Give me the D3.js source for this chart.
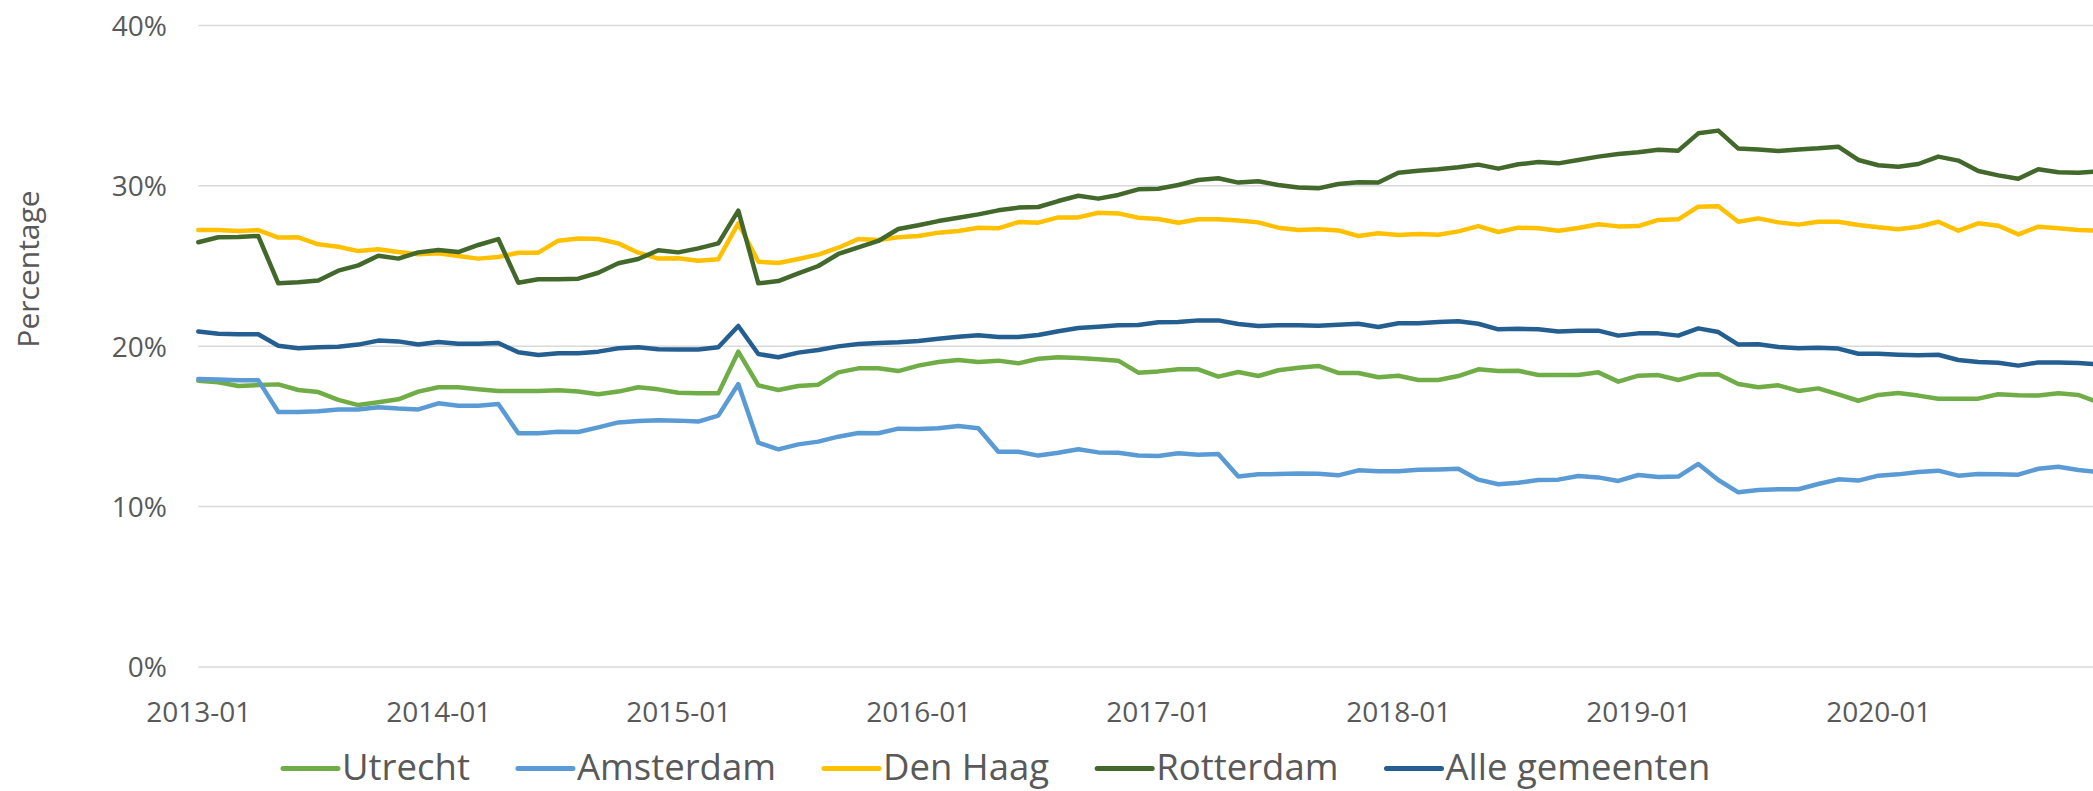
<!DOCTYPE html>
<html>
<head>
<meta charset="utf-8">
<script src="https://cdn.jsdelivr.net/npm/d3@7"></script>
<style>
  html, body { margin: 0; padding: 0; background: #fff; overflow: hidden; }
  svg { display: block; }
  text { font-family: "Open Sans", "Noto Sans", sans-serif; fill: #595959; }
</style>
</head>
<body>
<svg id="chart" width="2093" height="791"></svg>
<script>
// ---- data ----
const startYear = 2013;
const monthCount = 96; // 2013-01 .. 2020-12
const categories = d3.range(monthCount).map(i =>
  `${startYear + Math.floor(i / 12)}-${String(i % 12 + 1).padStart(2, "0")}`);

const xTickLabels = ["2013-01", "2014-01", "2015-01", "2016-01", "2017-01", "2018-01", "2019-01", "2020-01"];
const yTickValues = [0, 10, 20, 30, 40];

const utrecht = [
  17.85, 17.75, 17.52, 17.58, 17.62, 17.27, 17.14, 16.65, 16.33, 16.50, 16.69, 17.17,
  17.44, 17.44, 17.31, 17.21, 17.21, 17.21, 17.25, 17.17, 17.00, 17.17, 17.44, 17.31,
  17.10, 17.06, 17.06, 19.66, 17.56, 17.27, 17.52, 17.60, 18.37, 18.62, 18.62, 18.45,
  18.79, 19.01, 19.14, 19.01, 19.10, 18.93, 19.22, 19.31, 19.26, 19.18, 19.10, 18.35,
  18.43, 18.56, 18.56, 18.10, 18.39, 18.14, 18.50, 18.66, 18.77, 18.33, 18.33, 18.06,
  18.16, 17.89, 17.89, 18.14, 18.56, 18.45, 18.47, 18.20, 18.20, 18.20, 18.37, 17.79,
  18.16, 18.20, 17.89, 18.23, 18.25, 17.64, 17.44, 17.56, 17.21, 17.37, 17.00, 16.60,
  16.96, 17.08, 16.92, 16.73, 16.73, 16.73, 17.00, 16.94, 16.92, 17.06, 16.96, 16.50
];
const amsterdam = [
  17.95, 17.93, 17.87, 17.87, 15.90, 15.90, 15.94, 16.06, 16.06, 16.19, 16.11, 16.06,
  16.44, 16.29, 16.29, 16.40, 14.57, 14.57, 14.67, 14.65, 14.94, 15.25, 15.34, 15.38,
  15.36, 15.30, 15.67, 17.64, 13.99, 13.57, 13.88, 14.05, 14.36, 14.59, 14.57, 14.86,
  14.84, 14.88, 15.02, 14.88, 13.42, 13.42, 13.18, 13.36, 13.57, 13.38, 13.36, 13.18,
  13.15, 13.32, 13.24, 13.28, 11.87, 12.01, 12.03, 12.07, 12.05, 11.95, 12.26, 12.20,
  12.20, 12.30, 12.32, 12.36, 11.68, 11.39, 11.49, 11.66, 11.68, 11.91, 11.82, 11.60,
  11.97, 11.85, 11.87, 12.66, 11.66, 10.89, 11.03, 11.08, 11.08, 11.41, 11.70, 11.62,
  11.93, 12.01, 12.16, 12.24, 11.93, 12.03, 12.01, 11.99, 12.36, 12.49, 12.28, 12.16
];
const denHaag = [
  27.24, 27.24, 27.18, 27.24, 26.77, 26.79, 26.35, 26.20, 25.93, 26.04, 25.87, 25.73,
  25.79, 25.62, 25.46, 25.56, 25.83, 25.83, 26.58, 26.72, 26.68, 26.41, 25.83, 25.46,
  25.48, 25.33, 25.42, 27.66, 25.27, 25.19, 25.44, 25.71, 26.14, 26.68, 26.62, 26.79,
  26.87, 27.08, 27.18, 27.39, 27.35, 27.74, 27.70, 28.03, 28.03, 28.32, 28.28, 28.01,
  27.93, 27.70, 27.91, 27.91, 27.83, 27.72, 27.39, 27.24, 27.29, 27.22, 26.87, 27.04,
  26.93, 27.00, 26.95, 27.16, 27.49, 27.12, 27.39, 27.35, 27.20, 27.37, 27.60, 27.47,
  27.49, 27.87, 27.91, 28.70, 28.72, 27.76, 27.97, 27.72, 27.58, 27.76, 27.76, 27.56,
  27.41, 27.29, 27.45, 27.76, 27.20, 27.66, 27.51, 26.97, 27.45, 27.35, 27.24, 27.20
];
const rotterdam = [
  26.48, 26.79, 26.81, 26.87, 23.92, 23.98, 24.09, 24.71, 25.04, 25.64, 25.46, 25.85,
  26.00, 25.87, 26.31, 26.68, 23.96, 24.17, 24.17, 24.21, 24.58, 25.17, 25.44, 25.98,
  25.85, 26.10, 26.41, 28.45, 23.92, 24.06, 24.54, 25.00, 25.75, 26.16, 26.56, 27.31,
  27.54, 27.80, 28.01, 28.22, 28.47, 28.64, 28.68, 29.05, 29.38, 29.20, 29.43, 29.78,
  29.82, 30.05, 30.36, 30.47, 30.20, 30.28, 30.05, 29.90, 29.84, 30.11, 30.22, 30.20,
  30.82, 30.94, 31.03, 31.15, 31.32, 31.07, 31.34, 31.48, 31.40, 31.61, 31.82, 31.98,
  32.09, 32.25, 32.19, 33.27, 33.44, 32.32, 32.27, 32.17, 32.27, 32.34, 32.44, 31.61,
  31.28, 31.19, 31.36, 31.82, 31.57, 30.92, 30.65, 30.44, 31.03, 30.84, 30.82, 30.90
];
const alleGemeenten = [
  20.91, 20.78, 20.74, 20.74, 20.03, 19.87, 19.93, 19.97, 20.10, 20.35, 20.30, 20.10,
  20.26, 20.16, 20.16, 20.20, 19.62, 19.45, 19.56, 19.56, 19.66, 19.87, 19.93, 19.81,
  19.80, 19.80, 19.93, 21.26, 19.51, 19.31, 19.60, 19.76, 19.99, 20.14, 20.20, 20.24,
  20.32, 20.47, 20.59, 20.68, 20.57, 20.57, 20.70, 20.93, 21.13, 21.22, 21.30, 21.32,
  21.49, 21.51, 21.61, 21.61, 21.38, 21.26, 21.30, 21.30, 21.28, 21.34, 21.40, 21.20,
  21.43, 21.43, 21.51, 21.55, 21.40, 21.05, 21.09, 21.05, 20.91, 20.97, 20.97, 20.66,
  20.80, 20.80, 20.66, 21.11, 20.88, 20.10, 20.12, 19.95, 19.87, 19.91, 19.85, 19.53,
  19.53, 19.47, 19.43, 19.47, 19.14, 19.01, 18.97, 18.79, 18.99, 18.99, 18.95, 18.87
];

const seriesNames = ["Utrecht", "Amsterdam", "Den Haag", "Rotterdam", "Alle gemeenten"];
const seriesValues = [utrecht, amsterdam, denHaag, rotterdam, alleGemeenten];
const seriesColors = ["#70AD47", "#5B9BD5", "#FFC000", "#43682B", "#255E91"];

// ---- layout ----
const W = 2093, H = 791;
const left = 198.3, monthStep = 20.0;
const yTop = 25.4, yBottom = 667;

const svg = d3.select("#chart");

const x = d3.scaleLinear()
  .domain([0, monthCount - 1])
  .range([left, left + (monthCount - 1) * monthStep]);
const y = d3.scaleLinear().domain([0, 40]).range([yBottom, yTop]);

// gridlines
svg.append("g")
  .selectAll("line")
  .data(yTickValues)
  .join("line")
  .attr("x1", left).attr("x2", W)
  .attr("y1", d => y(d)).attr("y2", d => y(d))
  .attr("stroke", "#D9D9D9").attr("stroke-width", 1.5);

// y axis labels
const yAxis = d3.axisLeft(y).tickValues(yTickValues).tickFormat(d => d + "%").tickSize(0).tickPadding(0);
const gy = svg.append("g").attr("transform", "translate(167,0)").call(yAxis);
gy.select(".domain").remove();
gy.selectAll("text")
  .attr("font-family", "'Open Sans', sans-serif")
  .attr("font-size", 28).attr("fill", "#595959")
  .attr("dy", "0.35em").attr("x", 0);

// x axis labels
const tickIdx = xTickLabels.map(l => categories.indexOf(l));
const xAxis = d3.axisBottom(x).tickValues(tickIdx)
  .tickFormat(i => categories[i]).tickSize(0).tickPadding(0);
const gx = svg.append("g").attr("transform", `translate(0,${yBottom})`).call(xAxis);
gx.select(".domain").remove();
gx.selectAll("text")
  .attr("font-family", "'Open Sans', sans-serif")
  .attr("font-size", 28).attr("fill", "#595959")
  .attr("dy", null).attr("y", 55);

// y axis title
svg.append("text")
  .attr("transform", "translate(39,269) rotate(-90)")
  .attr("text-anchor", "middle")
  .attr("font-size", 30)
  .text("Percentage");

// lines
const line = d3.line().x((d, i) => x(i)).y(d => y(d));
svg.append("g")
  .selectAll("path")
  .data(seriesValues)
  .join("path")
  .attr("d", d => line(d))
  .attr("fill", "none")
  .attr("stroke", (d, i) => seriesColors[i])
  .attr("stroke-width", 4.5)
  .attr("stroke-linejoin", "round")
  .attr("stroke-linecap", "round");

// legend
const legend = svg.append("g");
let lx = 283;
const ly = 768.5;
seriesNames.forEach((name, i) => {
  legend.append("line")
    .attr("x1", lx).attr("x2", lx + 55)
    .attr("y1", ly).attr("y2", ly)
    .attr("stroke", seriesColors[i]).attr("stroke-width", 5)
    .attr("stroke-linecap", "round");
  const t = legend.append("text")
    .attr("x", lx + 59).attr("y", 780)
    .attr("font-size", 36.5)
    .text(name);
  lx += 59 + t.node().getComputedTextLength() + 48;
});
</script>
</body>
</html>
